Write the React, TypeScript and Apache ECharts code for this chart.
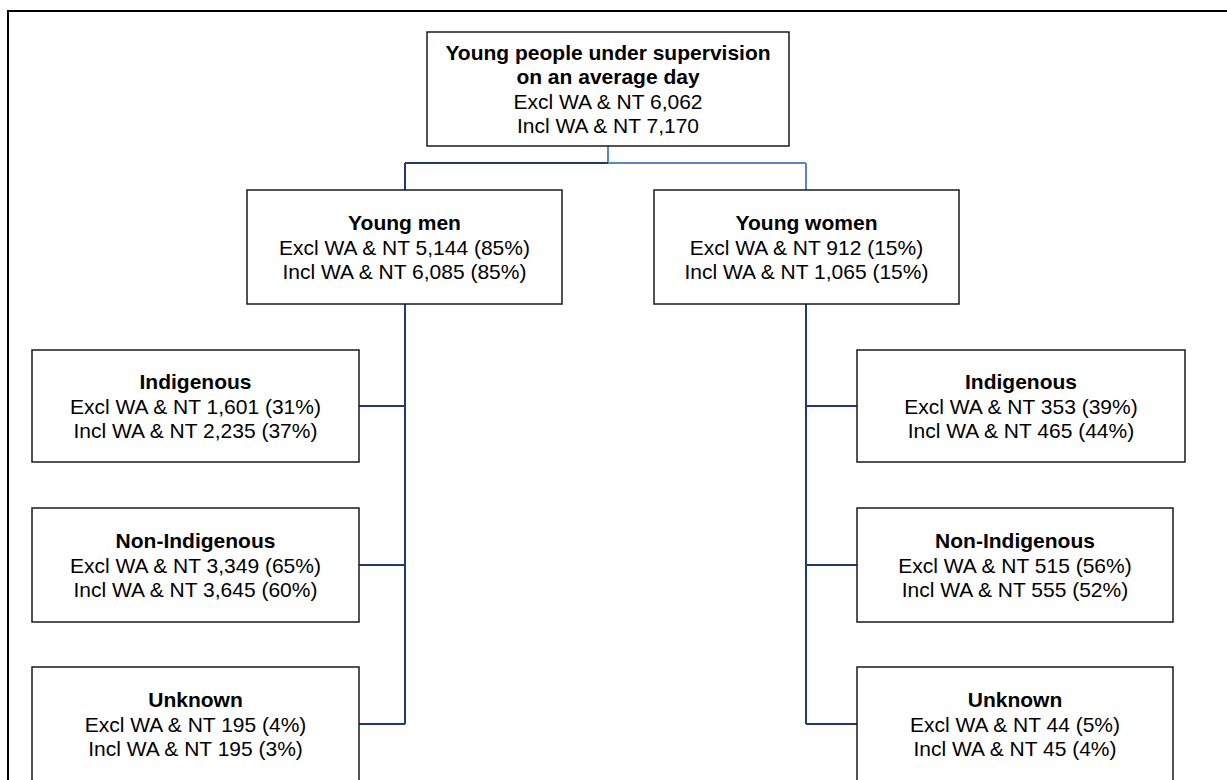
import React, { useEffect, useRef } from "react";
import * as echarts from "echarts";

// ---- Data ----
const rootTitle = ["Young people under supervision", "on an average day"];
const rootExcl = 6062;
const rootIncl = 7170;

const sexCategories = ["Young men", "Young women"];
const sexExcl = [5144, 912];
const sexIncl = [6085, 1065];
const sexExclPct = [85, 15];
const sexInclPct = [85, 15];

const indigCategories = ["Indigenous", "Non-Indigenous", "Unknown"];
const menExcl = [1601, 3349, 195];
const menIncl = [2235, 3645, 195];
const menExclPct = [31, 65, 4];
const menInclPct = [37, 60, 3];
const womenExcl = [353, 515, 44];
const womenIncl = [465, 555, 45];
const womenExclPct = [39, 56, 5];
const womenInclPct = [44, 52, 4];

// ---- Layout (positions / sizes) ----
const W = 1227;
const H = 780;
const rootBox = { x: 427, y: 32, w: 362, h: 114 };
const sexBoxes = [
  { x: 247, y: 190, w: 315, h: 114 },
  { x: 654, y: 190, w: 305, h: 114 },
];
const colY = [350, 508, 667];
const colH = [112, 114, 114];
const leftColX = 32;
const leftColW = [327, 327, 327];
const rightColX = 857;
const rightColW = [328, 316, 316];
const trunkX = [405, 806];
const stemX = 608;
const barY = 163;

const DARK = "#1F3A78";
const LIGHT = "#5686CF";
const FONT = "'Liberation Sans', Arial, sans-serif";
const FS = 21;
const LH = 24.3;

const fmt = (n: number) => n.toLocaleString("en-US");

function boxEls(
  b: { x: number; y: number; w: number; h: number },
  bold: string[],
  normal: string[]
) {
  const els: any[] = [];
  els.push({
    type: "rect",
    shape: { x: b.x, y: b.y, width: b.w, height: b.h },
    style: { fill: "#ffffff", stroke: "#1a1a1a", lineWidth: 1.5 },
    z: 10,
  });
  const lines = [
    ...bold.map((t) => ({ t, b: true })),
    ...normal.map((t) => ({ t, b: false })),
  ];
  const cx = b.x + b.w / 2;
  const cy = b.y + b.h / 2;
  lines.forEach((l, i) => {
    els.push({
      type: "text",
      z: 11,
      style: {
        text: l.t,
        x: cx,
        y: cy + (i - (lines.length - 1) / 2) * LH,
        fill: "#000000",
        fontFamily: FONT,
        fontSize: FS,
        fontWeight: l.b ? "bold" : "normal",
        textAlign: "center",
        textVerticalAlign: "middle",
      },
    });
  });
  return els;
}

function line(x1: number, y1: number, x2: number, y2: number, color: string) {
  return {
    type: "line",
    z: 5,
    shape: { x1, y1, x2, y2 },
    style: { stroke: color, lineWidth: 2 },
  };
}

export default function App() {
  const ref = useRef<HTMLDivElement>(null);
  useEffect(() => {
    document.body.style.margin = "0";
    document.body.style.overflow = "hidden";
    if (!ref.current) return;
    const chart = echarts.init(ref.current, null, { renderer: "svg" });
    const els: any[] = [];

    // outer frame (continues past the right and bottom edges)
    els.push({
      type: "rect",
      z: 1,
      shape: { x: 8, y: 11, width: W + 200, height: H + 200 },
      style: { fill: "#ffffff", stroke: "#000000", lineWidth: 2 },
    });

    // connectors
    els.push(line(stemX, rootBox.y + rootBox.h, stemX, barY, LIGHT));
    els.push(line(trunkX[0], barY, stemX, barY, DARK));
    els.push(line(stemX, barY, trunkX[1], barY, LIGHT));
    els.push(line(trunkX[0], barY, trunkX[0], sexBoxes[0].y, DARK));
    els.push(line(trunkX[1], barY, trunkX[1], sexBoxes[1].y, LIGHT));
    const lastCenter = colY[2] + colH[2] / 2;
    els.push(line(trunkX[0], sexBoxes[0].y + sexBoxes[0].h, trunkX[0], lastCenter, DARK));
    els.push(line(trunkX[1], sexBoxes[1].y + sexBoxes[1].h, trunkX[1], lastCenter, DARK));
    indigCategories.forEach((_, i) => {
      const cy = colY[i] + colH[i] / 2;
      els.push(line(leftColX + leftColW[i], cy, trunkX[0], cy, DARK));
      els.push(line(trunkX[1], cy, rightColX, cy, DARK));
    });

    // root
    els.push(
      ...boxEls(rootBox, rootTitle, [
        `Excl WA & NT ${fmt(rootExcl)}`,
        `Incl WA & NT ${fmt(rootIncl)}`,
      ])
    );
    // sex
    sexCategories.forEach((c, i) => {
      els.push(
        ...boxEls(sexBoxes[i], [c], [
          `Excl WA & NT ${fmt(sexExcl[i])} (${sexExclPct[i]}%)`,
          `Incl WA & NT ${fmt(sexIncl[i])} (${sexInclPct[i]}%)`,
        ])
      );
    });
    // indigenous status
    indigCategories.forEach((c, i) => {
      els.push(
        ...boxEls({ x: leftColX, y: colY[i], w: leftColW[i], h: colH[i] }, [c], [
          `Excl WA & NT ${fmt(menExcl[i])} (${menExclPct[i]}%)`,
          `Incl WA & NT ${fmt(menIncl[i])} (${menInclPct[i]}%)`,
        ])
      );
      els.push(
        ...boxEls({ x: rightColX, y: colY[i], w: rightColW[i], h: colH[i] }, [c], [
          `Excl WA & NT ${fmt(womenExcl[i])} (${womenExclPct[i]}%)`,
          `Incl WA & NT ${fmt(womenIncl[i])} (${womenInclPct[i]}%)`,
        ])
      );
    });

    chart.setOption({
      animation: false,
      backgroundColor: "#ffffff",
      graphic: { elements: els },
    });
    return () => chart.dispose();
  }, []);
  return <div ref={ref} style={{ width: W, height: H }} />;
}
